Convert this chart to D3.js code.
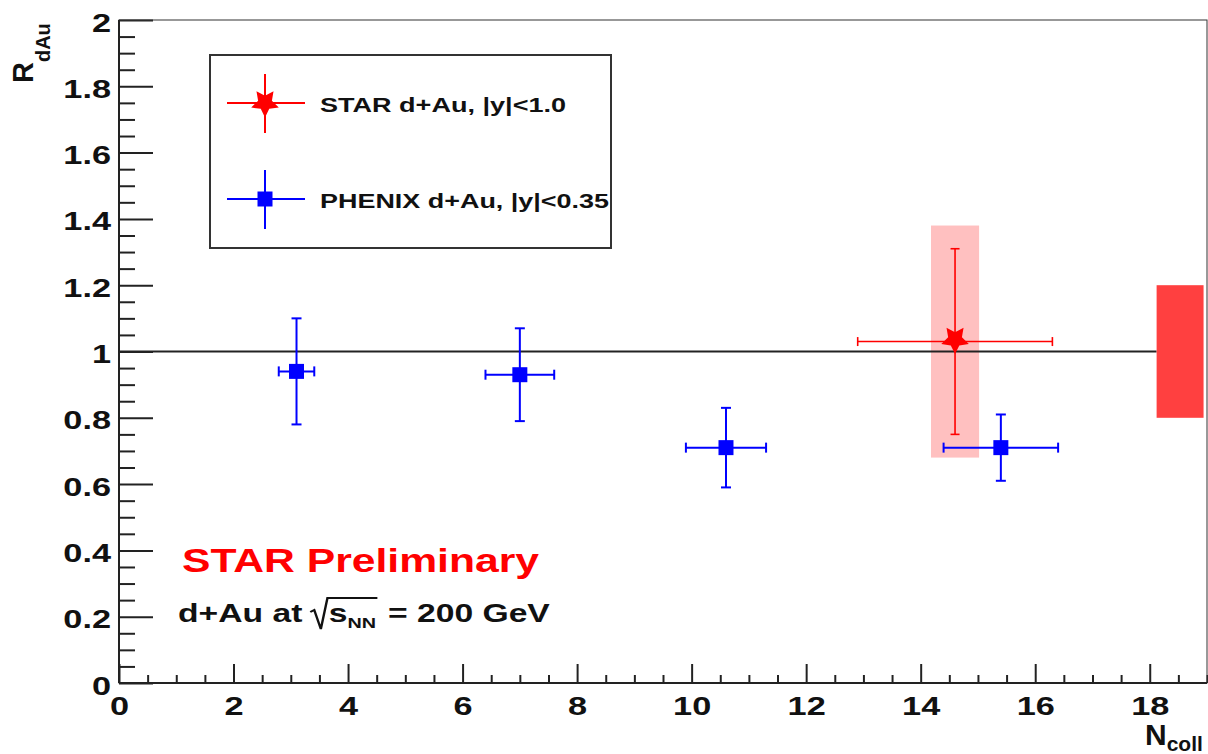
<!DOCTYPE html>
<html><head><meta charset="utf-8">
<script src="https://cdn.jsdelivr.net/npm/d3@7"></script>
<style>
body{margin:0;background:#fff}
svg{display:block}
text{font-family:"Liberation Sans",Arial,Helvetica,sans-serif;font-weight:bold}
</style>
</head><body>
<svg id="c" width="1208" height="754"></svg>
<script>
// ---------- data ----------
const phenixNcoll    = [3.1, 7.0, 10.6, 15.4];
const phenixNcollErr = [0.31, 0.6, 0.7, 1.0];
const phenixR        = [0.94, 0.93, 0.71, 0.71];
const phenixRErr     = [0.16, 0.14, 0.12, 0.10];

const starNcoll       = [14.6];
const starNcollErr    = [1.7];
const starR           = [1.03];
const starRErr        = [0.28];
const starRSys        = [0.35];
const starNcollSysHalf= [0.42];

const normBandNcoll = [18.12, 18.94];
const normBandR     = [0.8, 1.2];
const unityLevel    = [1.0];

const xTicks = [0, 2, 4, 6, 8, 10, 12, 14, 16, 18];
const yTicks = [0, 0.2, 0.4, 0.6, 0.8, 1.0, 1.2, 1.4, 1.6, 1.8, 2.0];
const legendLabels = ["STAR d+Au, |y|<1.0", "PHENIX d+Au, |y|<0.35"];

// ---------- setup ----------
const L = 119, R = 1207, T = 20, B = 683;
const SX = 1.32; // horizontal stretch of the reference text
const RED = "#ff0000", BLUE = "#0000ff";

const svg = d3.select("#c");
const x = d3.scaleLinear().domain([0, 19]).range([L, R]);
const y = d3.scaleLinear().domain([0, 2]).range([B, T]);

const phenix = phenixNcoll.map((d, i) => ({x: d, ex: phenixNcollErr[i], y: phenixR[i], ey: phenixRErr[i]}));
const star = starNcoll.map((d, i) => ({x: d, ex: starNcollErr[i], y: starR[i], ey: starRErr[i], sys: starRSys[i], sx: starNcollSysHalf[i]}));

// inverted star symbol (size = outer radius)
const invStar = {draw(ctx, size){
  const Ro = size, Ri = size * 0.5;
  for (let i = 0; i < 10; i++){
    const a = Math.PI / 5 * i, rr = i % 2 ? Ri : Ro;
    const px = rr * Math.sin(a), py = rr * Math.cos(a);
    i ? ctx.lineTo(px, py) : ctx.moveTo(px, py);
  }
  ctx.closePath();
}};

// ---------- systematic boxes ----------
svg.append("g").selectAll("rect").data(star).join("rect")
  .attr("x", d => x(d.x - d.sx)).attr("width", d => x(d.x + d.sx) - x(d.x - d.sx))
  .attr("y", d => y(d.y + d.sys)).attr("height", d => y(d.y - d.sys) - y(d.y + d.sys))
  .attr("fill", "#ffc0c0");

// unity line
svg.append("g").selectAll("line").data(unityLevel).join("line")
  .attr("x1", x(0)).attr("x2", x(normBandNcoll[0])).attr("y1", d => y(d)).attr("y2", d => y(d))
  .attr("stroke", "#222").attr("stroke-width", 2);

// normalization band
svg.append("rect")
  .attr("x", x(normBandNcoll[0])).attr("width", x(normBandNcoll[1]) - x(normBandNcoll[0]))
  .attr("y", y(normBandR[1])).attr("height", y(normBandR[0]) - y(normBandR[1]))
  .attr("fill", "#ff4040");

// ---------- axes ----------
function styleAxis(g){
  g.select(".domain").remove();
  g.selectAll(".tick line").attr("stroke", "#222").attr("stroke-width", 2);
}
const fmt = d => String(+d.toFixed(1));

const yMinor = d3.range(0, 2.0001, 0.05).filter(v => Math.abs(v * 5 - Math.round(v * 5)) > 1e-6);
svg.append("g").attr("transform", `translate(${L},0)`)
  .call(d3.axisLeft(y).tickValues(yMinor).tickSizeInner(-16).tickSizeOuter(0).tickFormat(""))
  .call(styleAxis);
const gy = svg.append("g").attr("transform", `translate(${L},0)`)
  .call(d3.axisLeft(y).tickValues(yTicks).tickSizeInner(-34).tickSizeOuter(0).tickFormat(fmt))
  .call(styleAxis);
gy.selectAll(".tick text").attr("x", null).attr("dy", null)
  .attr("transform", `translate(-8,11) scale(${SX},1)`)
  .attr("font-size", 26).attr("fill", "#111");
gy.attr("font-family", null).attr("font-size", null);

const xMinor = d3.range(0, 19.0001, 0.5).filter(v => Math.abs(v / 2 - Math.round(v / 2)) > 1e-6);
svg.append("g").attr("transform", `translate(0,${B})`)
  .call(d3.axisBottom(x).tickValues(xMinor).tickSizeInner(-8).tickSizeOuter(0).tickFormat(""))
  .call(styleAxis);
const gx = svg.append("g").attr("transform", `translate(0,${B})`)
  .call(d3.axisBottom(x).tickValues(xTicks).tickSizeInner(-19).tickSizeOuter(0).tickFormat(fmt))
  .call(styleAxis);
gx.selectAll(".tick text").attr("y", null).attr("dy", null)
  .attr("transform", `translate(0,32) scale(${SX},1)`)
  .attr("font-size", 26).attr("fill", "#111");
gx.attr("font-family", null).attr("font-size", null);

// frame
svg.append("rect").attr("x", L).attr("y", T).attr("width", R - L).attr("height", B - T)
  .attr("fill", "none").attr("stroke", "#333").attr("stroke-width", 1);
svg.append("line").attr("x1", L).attr("x2", L).attr("y1", T).attr("y2", B).attr("stroke", "#222").attr("stroke-width", 2);
svg.append("line").attr("x1", L).attr("x2", R).attr("y1", B).attr("y2", B).attr("stroke", "#222").attr("stroke-width", 2);

// ---------- error bars ----------
function errorBars(data, color, sw, cap){
  const g = svg.append("g").attr("stroke", color).attr("stroke-width", sw).attr("fill", "none");
  data.forEach(d => {
    g.append("line").attr("x1", x(d.x)).attr("x2", x(d.x)).attr("y1", y(d.y - d.ey)).attr("y2", y(d.y + d.ey));
    g.append("line").attr("x1", x(d.x - d.ex)).attr("x2", x(d.x + d.ex)).attr("y1", y(d.y)).attr("y2", y(d.y));
    [d.y - d.ey, d.y + d.ey].forEach(v => g.append("line")
      .attr("x1", x(d.x) - cap).attr("x2", x(d.x) + cap).attr("y1", y(v)).attr("y2", y(v)));
    [d.x - d.ex, d.x + d.ex].forEach(v => g.append("line")
      .attr("x1", x(v)).attr("x2", x(v)).attr("y1", y(d.y) - cap).attr("y2", y(d.y) + cap));
  });
  return g;
}
errorBars(star, RED, 1.6, 4.5);
errorBars(phenix, BLUE, 2, 5);

svg.append("g").selectAll("path").data(star).join("path")
  .attr("transform", d => `translate(${x(d.x)},${y(d.y) - 2})`)
  .attr("d", d3.symbol(invStar, 14.5)).attr("fill", RED);
svg.append("g").selectAll("path").data(phenix).join("path")
  .attr("transform", d => `translate(${x(d.x)},${y(d.y)})`)
  .attr("d", d3.symbol(d3.symbolSquare, 225)).attr("fill", BLUE);

// ---------- legend ----------
const lg = svg.append("g");
lg.append("rect").attr("x", 210).attr("y", 55).attr("width", 401).attr("height", 193)
  .attr("fill", "#fff").attr("stroke", "#333").attr("stroke-width", 2);
const legendItems = [
  {label: legendLabels[0], color: RED, sym: d3.symbol(invStar, 14.5), cy: 103, tl: 246},
  {label: legendLabels[1], color: BLUE, sym: d3.symbol(d3.symbolSquare, 225), cy: 199, tl: 289}
];
legendItems.forEach(it => {
  const g = lg.append("g").attr("transform", `translate(265,${it.cy})`);
  g.append("line").attr("x1", -38).attr("x2", 40).attr("stroke", it.color).attr("stroke-width", 2);
  g.append("line").attr("y1", -29).attr("y2", 30).attr("stroke", it.color).attr("stroke-width", 2);
  g.append("path").attr("d", it.sym).attr("fill", it.color);
  lg.append("text").attr("x", 320).attr("y", it.cy + 9).attr("font-size", 20)
    .attr("textLength", it.tl).attr("lengthAdjust", "spacingAndGlyphs")
    .attr("fill", "#111").text(it.label);
});

// ---------- annotations ----------
svg.append("text").attr("x", 182).attr("y", 572).attr("font-size", 33).attr("fill", RED)
  .attr("textLength", 357).attr("lengthAdjust", "spacingAndGlyphs").text("STAR Preliminary");

const ann = svg.append("g").attr("transform", `translate(178,622) scale(${SX},1)`).attr("fill", "#111");
const t1 = ann.append("text").attr("x", 0).attr("font-size", 25.5).text("d+Au at");
let cx = t1.node().getComputedTextLength() + 6;
const radStart = cx;
const ts = ann.append("text").attr("x", cx + 14).attr("font-size", 25.5).text("s");
cx = cx + 14 + ts.node().getComputedTextLength();
const tn = ann.append("text").attr("x", cx).attr("y", 6).attr("font-size", 15).text("NN");
cx += tn.node().getComputedTextLength() + 1;
ann.append("path")
  .attr("d", `M${radStart},-10 L${radStart + 3},-12 L${radStart + 8},7 L${radStart + 13},-24 L${cx},-24`)
  .attr("fill", "none").attr("stroke", "#111").attr("stroke-width", 1.8);
ann.append("text").attr("x", cx + 8).attr("font-size", 25.5).text("= 200 GeV");

// axis titles
svg.append("text").attr("transform", "translate(33,83) rotate(-90)").attr("fill", "#111")
  .call(t => {
    t.append("tspan").attr("font-size", 29).text("R");
    t.append("tspan").attr("font-size", 20).attr("dy", 17).text("dAu");
  });
svg.append("text").attr("x", 1145).attr("y", 745).attr("fill", "#111")
  .call(t => {
    t.append("tspan").attr("font-size", 30).text("N");
    t.append("tspan").attr("font-size", 21).attr("dy", 6).text("coll");
  });
</script>
</body></html>
